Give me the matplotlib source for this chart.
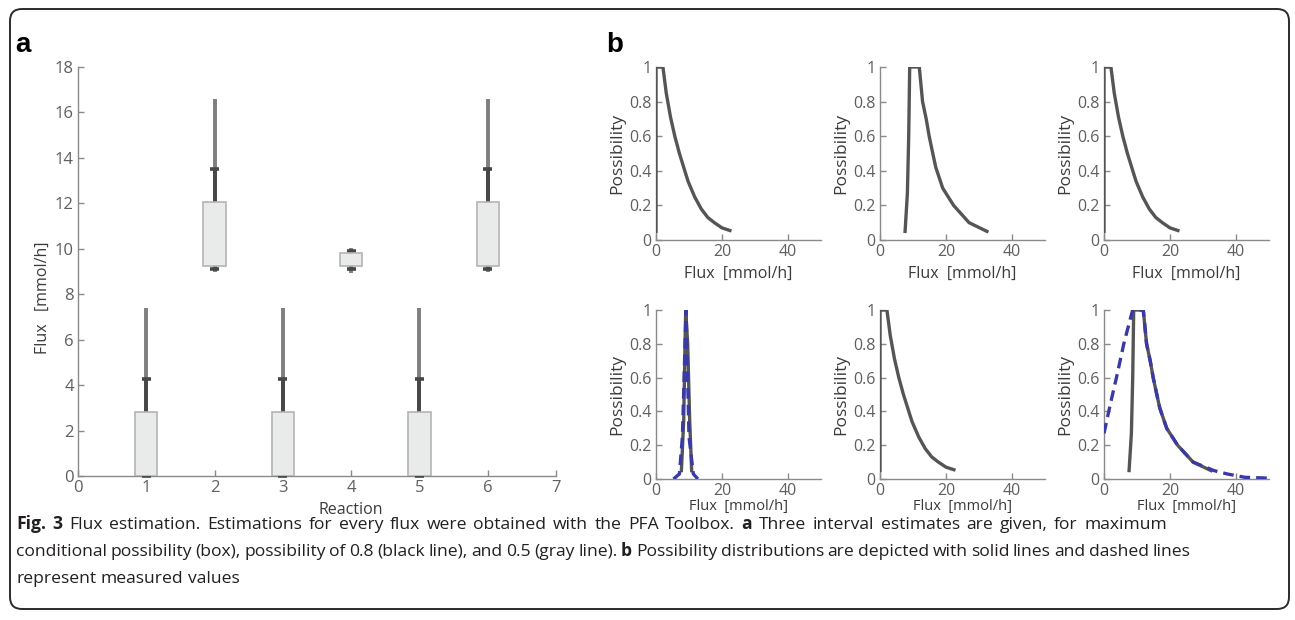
import matplotlib
matplotlib.use("Agg")
import matplotlib.pyplot as plt
from matplotlib.patches import FancyBboxPatch, Rectangle

plt.rcParams['font.family'] = ['Open Sans', 'DejaVu Sans']

# panel a: interval estimates per reaction
reactions = [1, 2, 3, 4, 5, 6]
box_lo = [0.0, 9.25, 0.0, 9.25, 0.0, 9.25]
box_hi = [2.8, 12.05, 2.8, 9.8, 2.8, 12.05]
p08_lo = [0.0, 9.1, 0.0, 9.1, 0.0, 9.1]
p08_hi = [4.25, 13.5, 4.25, 9.9, 4.25, 13.5]
p05_lo = [0.0, 9.0, 0.0, 8.95, 0.0, 9.0]
p05_hi = [7.4, 16.6, 7.4, 10.05, 7.4, 16.6]

# panel b: possibility distributions
decay_x = [0, 0, 2.1, 3.1, 4.4, 5.7, 7.1, 8.4, 9.7, 11.7, 13.7, 15.7, 17.7, 20.0, 22.4]
decay_y = [0.05, 1, 1, 0.85, 0.71, 0.60, 0.50, 0.42, 0.34, 0.25, 0.18, 0.13, 0.10, 0.07, 0.055]

peak_x = [7.6, 8.3, 8.7, 9.0, 11.9, 12.9, 14.0, 14.9, 16.0, 16.9, 19.0, 22.3, 27.0, 32.4]
peak_y = [0.05, 0.27, 0.6, 1.0, 1.0, 0.8, 0.7, 0.6, 0.5, 0.42, 0.3, 0.2, 0.1, 0.05]

spike_x = [7.7, 8.4, 8.8, 9.0, 9.6, 10.2, 10.8]
spike_y = [0.05, 0.35, 0.8, 1.0, 0.8, 0.35, 0.05]

meas4_x = [5.3, 7.1, 8.0, 9.1, 10.0, 11.3, 12.7]
meas4_y = [0.0, 0.03, 0.25, 1.0, 0.25, 0.03, 0.0]

meas6_x = [0, 2, 4, 6, 8, 8.7, 11.9, 12.9, 14.0, 14.9, 16.0, 16.9, 19.0, 22.3, 27.0, 33.3, 37.3, 42.7, 50]
meas6_y = [0.27, 0.45, 0.62, 0.80, 0.95, 1.0, 1.0, 0.8, 0.7, 0.6, 0.5, 0.42, 0.3, 0.2, 0.1, 0.05, 0.03, 0.01, 0.005]

panels_b = [
    (decay_x, decay_y, None, None),
    (peak_x, peak_y, None, None),
    (decay_x, decay_y, None, None),
    (spike_x, spike_y, meas4_x, meas4_y),
    (decay_x, decay_y, None, None),
    (peak_x, peak_y, meas6_x, meas6_y),
]

caption_lines = [
    'Fig. 3 Flux estimation. Estimations for every flux were obtained with the PFA Toolbox. '
    'a Three interval estimates are given, for maximum',
    'conditional possibility (box), possibility of 0.8 (black line), and 0.5 (gray line). '
    'b Possibility distributions are depicted with solid lines and dashed lines',
    'represent measured values',
]
caption_bold = {'Fig.', '3', 'a', 'b'}

AXIS_C = '#8a8a8a'
TICK_C = '#5f5f5f'
LABEL_C = '#3a3a3a'
W, H = 1295, 620


def style_axes(ax, fs):
    for s in ('top', 'right'):
        ax.spines[s].set_visible(False)
    for s in ('left', 'bottom'):
        ax.spines[s].set_color(AXIS_C)
        ax.spines[s].set_linewidth(1.0)
    ax.tick_params(direction='in', length=4, width=1, colors=AXIS_C,
                   labelcolor=TICK_C, labelsize=fs, pad=3)


fig = plt.figure(figsize=(W / 100, H / 100), dpi=100)

# outer rounded frame, drawn in pixel units
bg = fig.add_axes([0, 0, 1, 1])
bg.set_xlim(0, W)
bg.set_ylim(H, 0)
bg.axis('off')
bg.add_patch(FancyBboxPatch((10, 9), 1279, 600, boxstyle='round,pad=0,rounding_size=12',
                            fc='none', ec='#2b2b2b', lw=1.4))

# panel a
ax = fig.add_axes([78 / W, 1 - 476 / H, 478 / W, 409 / H])
style_axes(ax, 12)
for i, r in enumerate(reactions):
    ax.plot([r, r], [p05_lo[i], p05_hi[i]], color='#7f7f7f', lw=2.8, solid_capstyle='butt', zorder=2)
    ax.plot([r, r], [p08_lo[i], p08_hi[i]], color='#474747', lw=2.8, solid_capstyle='butt', zorder=3)
    for yv in (p08_lo[i], p08_hi[i]):
        ax.plot([r - 0.065, r + 0.065], [yv, yv], color='#474747', lw=2.6,
                solid_capstyle='butt', zorder=3, clip_on=False)
    ax.add_patch(Rectangle((r - 0.163, box_lo[i]), 0.326, box_hi[i] - box_lo[i],
                           fc='#e9eaea', ec='#b4b4b4', lw=1.2, zorder=4))
ax.set_xlim(0, 7)
ax.set_ylim(0, 18)
ax.set_xticks(range(0, 8))
ax.set_yticks(range(0, 19, 2))
ax.set_xlabel('Reaction', fontsize=11.5, color=LABEL_C)
ax.xaxis.set_label_coords(4.0 / 7, -0.064)
ax.set_ylabel('Flux   [mmol/h]', fontsize=11.5, color=LABEL_C)
ax.yaxis.set_label_coords(-0.056, 7.85 / 18)

# panel b
lefts = [656, 880, 1104]
rows = [(67, 240), (310, 479)]
for k, (gx, gy, mx, my) in enumerate(panels_b):
    top, bot = rows[k // 3]
    left = lefts[k % 3]
    bx = fig.add_axes([left / W, 1 - bot / H, 165 / W, (bot - top) / H])
    style_axes(bx, 11.5)
    bx.plot(gx, gy, color='#555555', lw=2.4, solid_joinstyle='round', zorder=3)
    if mx is not None:
        bx.plot(mx, my, color='#3a3aa6', lw=2.4, ls=(0, (3.2, 1.8)), zorder=4)
    bx.set_xlim(0, 50)
    bx.set_ylim(0, 1)
    bx.set_xticks([0, 20, 40])
    bx.set_yticks([0, 0.2, 0.4, 0.6, 0.8, 1])
    bx.set_yticklabels(['0', '0.2', '0.4', '0.6', '0.8', '1'])
    if k < 3:
        bx.set_xlabel('Flux  [mmol/h]', fontsize=11.5, color=LABEL_C, labelpad=4)
    else:
        bx.set_xlabel('Flux  [mmol/h]', fontsize=10.5, color=LABEL_C, labelpad=0)
    bx.set_ylabel('Possibility', fontsize=12.5, color=LABEL_C, labelpad=3)

fig.text(15 / W, 1 - 45 / H, 'a', fontsize=20, fontweight='bold', family='Liberation Sans',
         va='center', ha='left')
fig.text(606 / W, 1 - 45 / H, 'b', fontsize=20, fontweight='bold', family='Liberation Sans',
         va='center', ha='left')

# caption, words placed one by one (bold words mixed in), spacing slightly widened
renderer = fig.canvas.get_renderer()
cap_fs = 12.6
cap_base = [529, 556, 583]
cap_end = [1205, 1182, None]
space = 0.26 * cap_fs * 100 / 72
x0 = 16
for line, yb, xe in zip(caption_lines, cap_base, cap_end):
    words = line.split(' ')
    texts = []
    for w in words:
        t = fig.text(0, 1 - yb / H, w, fontsize=cap_fs, color='#231f20', va='baseline', ha='left',
                     fontweight='bold' if w in caption_bold else 'normal')
        texts.append(t)
    widths = [t.get_window_extent(renderer).width for t in texts]
    gap = space
    if xe is not None:
        gap = (xe - x0 - sum(widths)) / (len(words) - 1)
        gap = min(max(gap, space - 1.0), space + 2.0)
    x = x0
    for t, wd in zip(texts, widths):
        t.set_x(x / W)
        x += wd + gap

fig.savefig('out.png', dpi=100)
